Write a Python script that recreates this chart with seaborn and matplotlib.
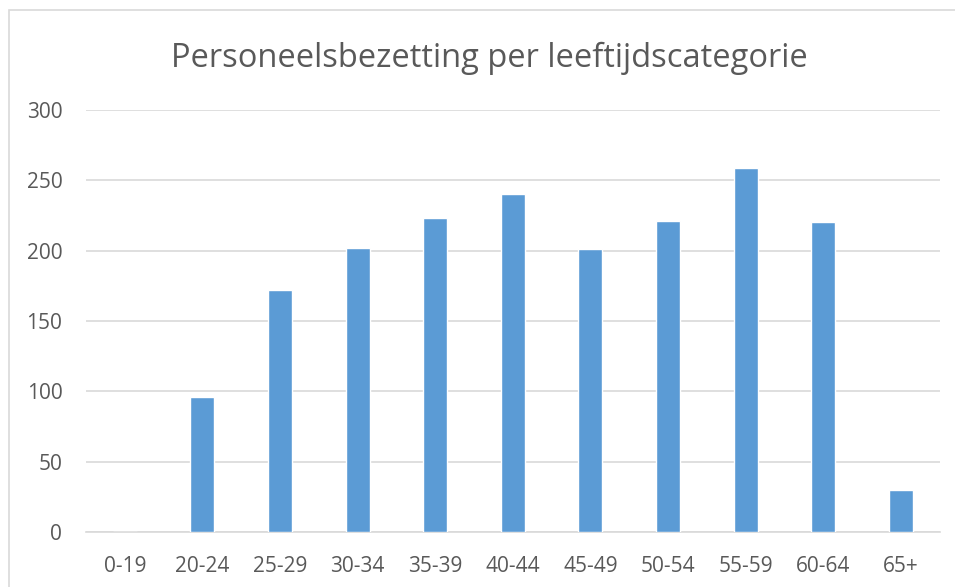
import pandas as pd
import seaborn as sns
import matplotlib.pyplot as plt
from matplotlib.patches import Rectangle

categories = ['0-19', '20-24', '25-29', '30-34', '35-39', '40-44',
              '45-49', '50-54', '55-59', '60-64', '65+']
counts = [0, 96, 172, 202, 223, 240, 201, 221, 259, 220, 30]
yticks = [0, 50, 100, 150, 200, 250, 300]

df = pd.DataFrame({'categorie': categories, 'aantal': counts})

sns.set_style('white')
plt.rcParams['font.family'] = ['Open Sans', 'DejaVu Sans']

fig = plt.figure(figsize=(9.55, 5.87), dpi=100)
ax = fig.add_axes([0.090, 0.0937, 0.894, 0.719])

sns.barplot(data=df, x='categorie', y='aantal', color='#5b9bd5',
            saturation=1, width=0.31, ax=ax, zorder=3)

ax.set_ylim(0, 300)
ax.set_xlim(-0.5, len(categories) - 0.5)
ax.set_yticks(yticks)
ax.yaxis.grid(True, color='#d9d9d9', linewidth=1.2, zorder=0)
ax.set_axisbelow(True)
for side in ['top', 'right', 'left']:
    ax.spines[side].set_visible(False)
ax.spines['bottom'].set_color('#d9d9d9')
ax.spines['bottom'].set_linewidth(1.2)
ax.tick_params(axis='x', length=0, pad=17.5, labelsize=15, labelcolor='#595959')
ax.tick_params(axis='y', length=0, pad=17, labelsize=15, labelcolor='#595959')
ax.set_xlabel('')
ax.set_ylabel('')

fig.text(0.512, 0.9, 'Personeelsbezetting per leeftijdscategorie',
         ha='center', va='center', fontsize=23.5, color='#595959')

# chart area border
fig.patches.append(Rectangle((9 / 955, -0.01), 1.0, 1 - 10 / 587 + 0.01,
                             transform=fig.transFigure, fill=False,
                             edgecolor='#d9d9d9', linewidth=1.2))

fig.savefig('out.png', dpi=100)
